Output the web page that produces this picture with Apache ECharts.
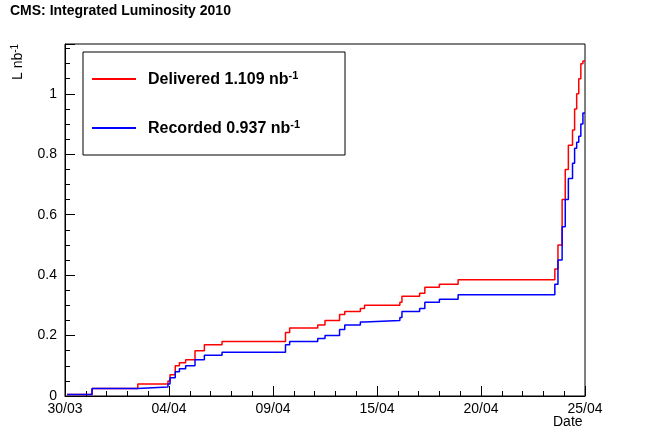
<!DOCTYPE html>
<html><head><meta charset="utf-8">
<script src="https://cdn.jsdelivr.net/npm/echarts@6/dist/echarts.min.js"></script>
<style>html,body{margin:0;padding:0;background:#fff}#c{width:650px;height:441px}</style>
</head><body><div id="c"></div>
<script>
const tickLabels = ['30/03','04/04','09/04','15/04','20/04','25/04'];
const deliveredDays = [0.1,1.3,3.5,4.95,5.05,5.3,5.5,5.8,6.25,6.7,7.55,10.6,10.8,12.15,12.5,13.2,13.45,14.2,14.4,16.1,16.2,17.05,17.3,18.0,18.9,23.55,23.7,23.9,24.05,24.2,24.4,24.5,24.6,24.7,24.8,24.9,25.0];
const deliveredVals = [0.005,0.025,0.04,0.05,0.07,0.1,0.11,0.12,0.15,0.17,0.18,0.21,0.225,0.235,0.25,0.27,0.28,0.29,0.30,0.31,0.33,0.34,0.36,0.37,0.385,0.42,0.5,0.65,0.75,0.83,0.88,0.95,1.0,1.05,1.1,1.109,1.109];
const recordedDays = deliveredDays;
const recordedVals = [0.005,0.025,0.03,0.04,0.06,0.08,0.09,0.1,0.12,0.135,0.145,0.17,0.18,0.19,0.2,0.22,0.235,0.245,0.25,0.26,0.28,0.29,0.31,0.32,0.335,0.37,0.45,0.56,0.65,0.72,0.77,0.82,0.84,0.86,0.9,0.937,0.937];
const zip = (a,b)=>a.map((x,i)=>[x,b[i]]);
const chart = echarts.init(document.getElementById('c'));
const F = 'Liberation Sans, Arial, sans-serif';
chart.setOption({
  animation:false,
  textStyle:{fontFamily:F},
  grid:{left:65,right:65,top:44,bottom:45,show:true,borderColor:'#000',borderWidth:1},
  xAxis:{type:'value',min:0,max:25,interval:5,
    axisLine:{lineStyle:{color:'#000'}},
    axisTick:{inside:true,length:10,lineStyle:{color:'#000'}},
    minorTick:{show:true,splitNumber:5,length:5,lineStyle:{color:'#000'}},
    splitLine:{show:false},
    axisLabel:{color:'#000',fontSize:14,margin:6,formatter:v=>tickLabels[Math.round(v/5)]||''}},
  yAxis:{type:'value',min:0,max:1.165,interval:0.2,
    axisLine:{show:true,lineStyle:{color:'#000'}},
    axisTick:{show:true,inside:true,length:10,lineStyle:{color:'#000'}},
    minorTick:{show:true,splitNumber:4,length:5,lineStyle:{color:'#000'}},
    splitLine:{show:false},
    axisLabel:{color:'#000',fontSize:14,margin:8,showMaxLabel:false,formatter:v=>v===0?'0':(Math.abs(v-1)<1e-6?'1':v.toFixed(1))}},
  series:[
    {type:'line',step:'end',data:zip(deliveredDays,deliveredVals),showSymbol:false,lineStyle:{color:'#ff0000',width:1.5}},
    {type:'line',step:'end',data:zip(recordedDays,recordedVals),showSymbol:false,lineStyle:{color:'#0000ff',width:1.5}}
  ],
  graphic:[
    {type:'text',left:10,top:4,style:{text:'CMS: Integrated Luminosity 2010',font:'bold 14px '+F,fill:'#000'}},
    {type:'text',x:10,y:80,rotation:Math.PI/2,style:{text:'{a|L nb}{s|-1}',rich:{a:{fontSize:14,fontFamily:F},s:{fontSize:10,fontFamily:F,verticalAlign:'top',padding:[0,0,6,0]}},fill:'#000'}},
    {type:'text',left:553,top:415,style:{text:'Date',font:'14px '+F,fill:'#000'}},
    {type:'rect',shape:{x:83,y:52,width:262,height:103},style:{fill:'#fff',stroke:'#000',lineWidth:1}},
    {type:'line',shape:{x1:92,y1:79,x2:136,y2:79},style:{stroke:'#ff0000',lineWidth:2}},
    {type:'line',shape:{x1:92,y1:128,x2:136,y2:128},style:{stroke:'#0000ff',lineWidth:2}},
    {type:'text',x:148,y:70,style:{text:'{a|Delivered 1.109 nb}{s|-1}',rich:{a:{fontSize:16,fontWeight:'bold',fontFamily:F},s:{fontSize:11,fontWeight:'bold',fontFamily:F,padding:[0,0,8,0]}},fill:'#000'}},
    {type:'text',x:148,y:119,style:{text:'{a|Recorded 0.937 nb}{s|-1}',rich:{a:{fontSize:16,fontWeight:'bold',fontFamily:F},s:{fontSize:11,fontWeight:'bold',fontFamily:F,padding:[0,0,8,0]}},fill:'#000'}}
  ]
});
</script></body></html>
